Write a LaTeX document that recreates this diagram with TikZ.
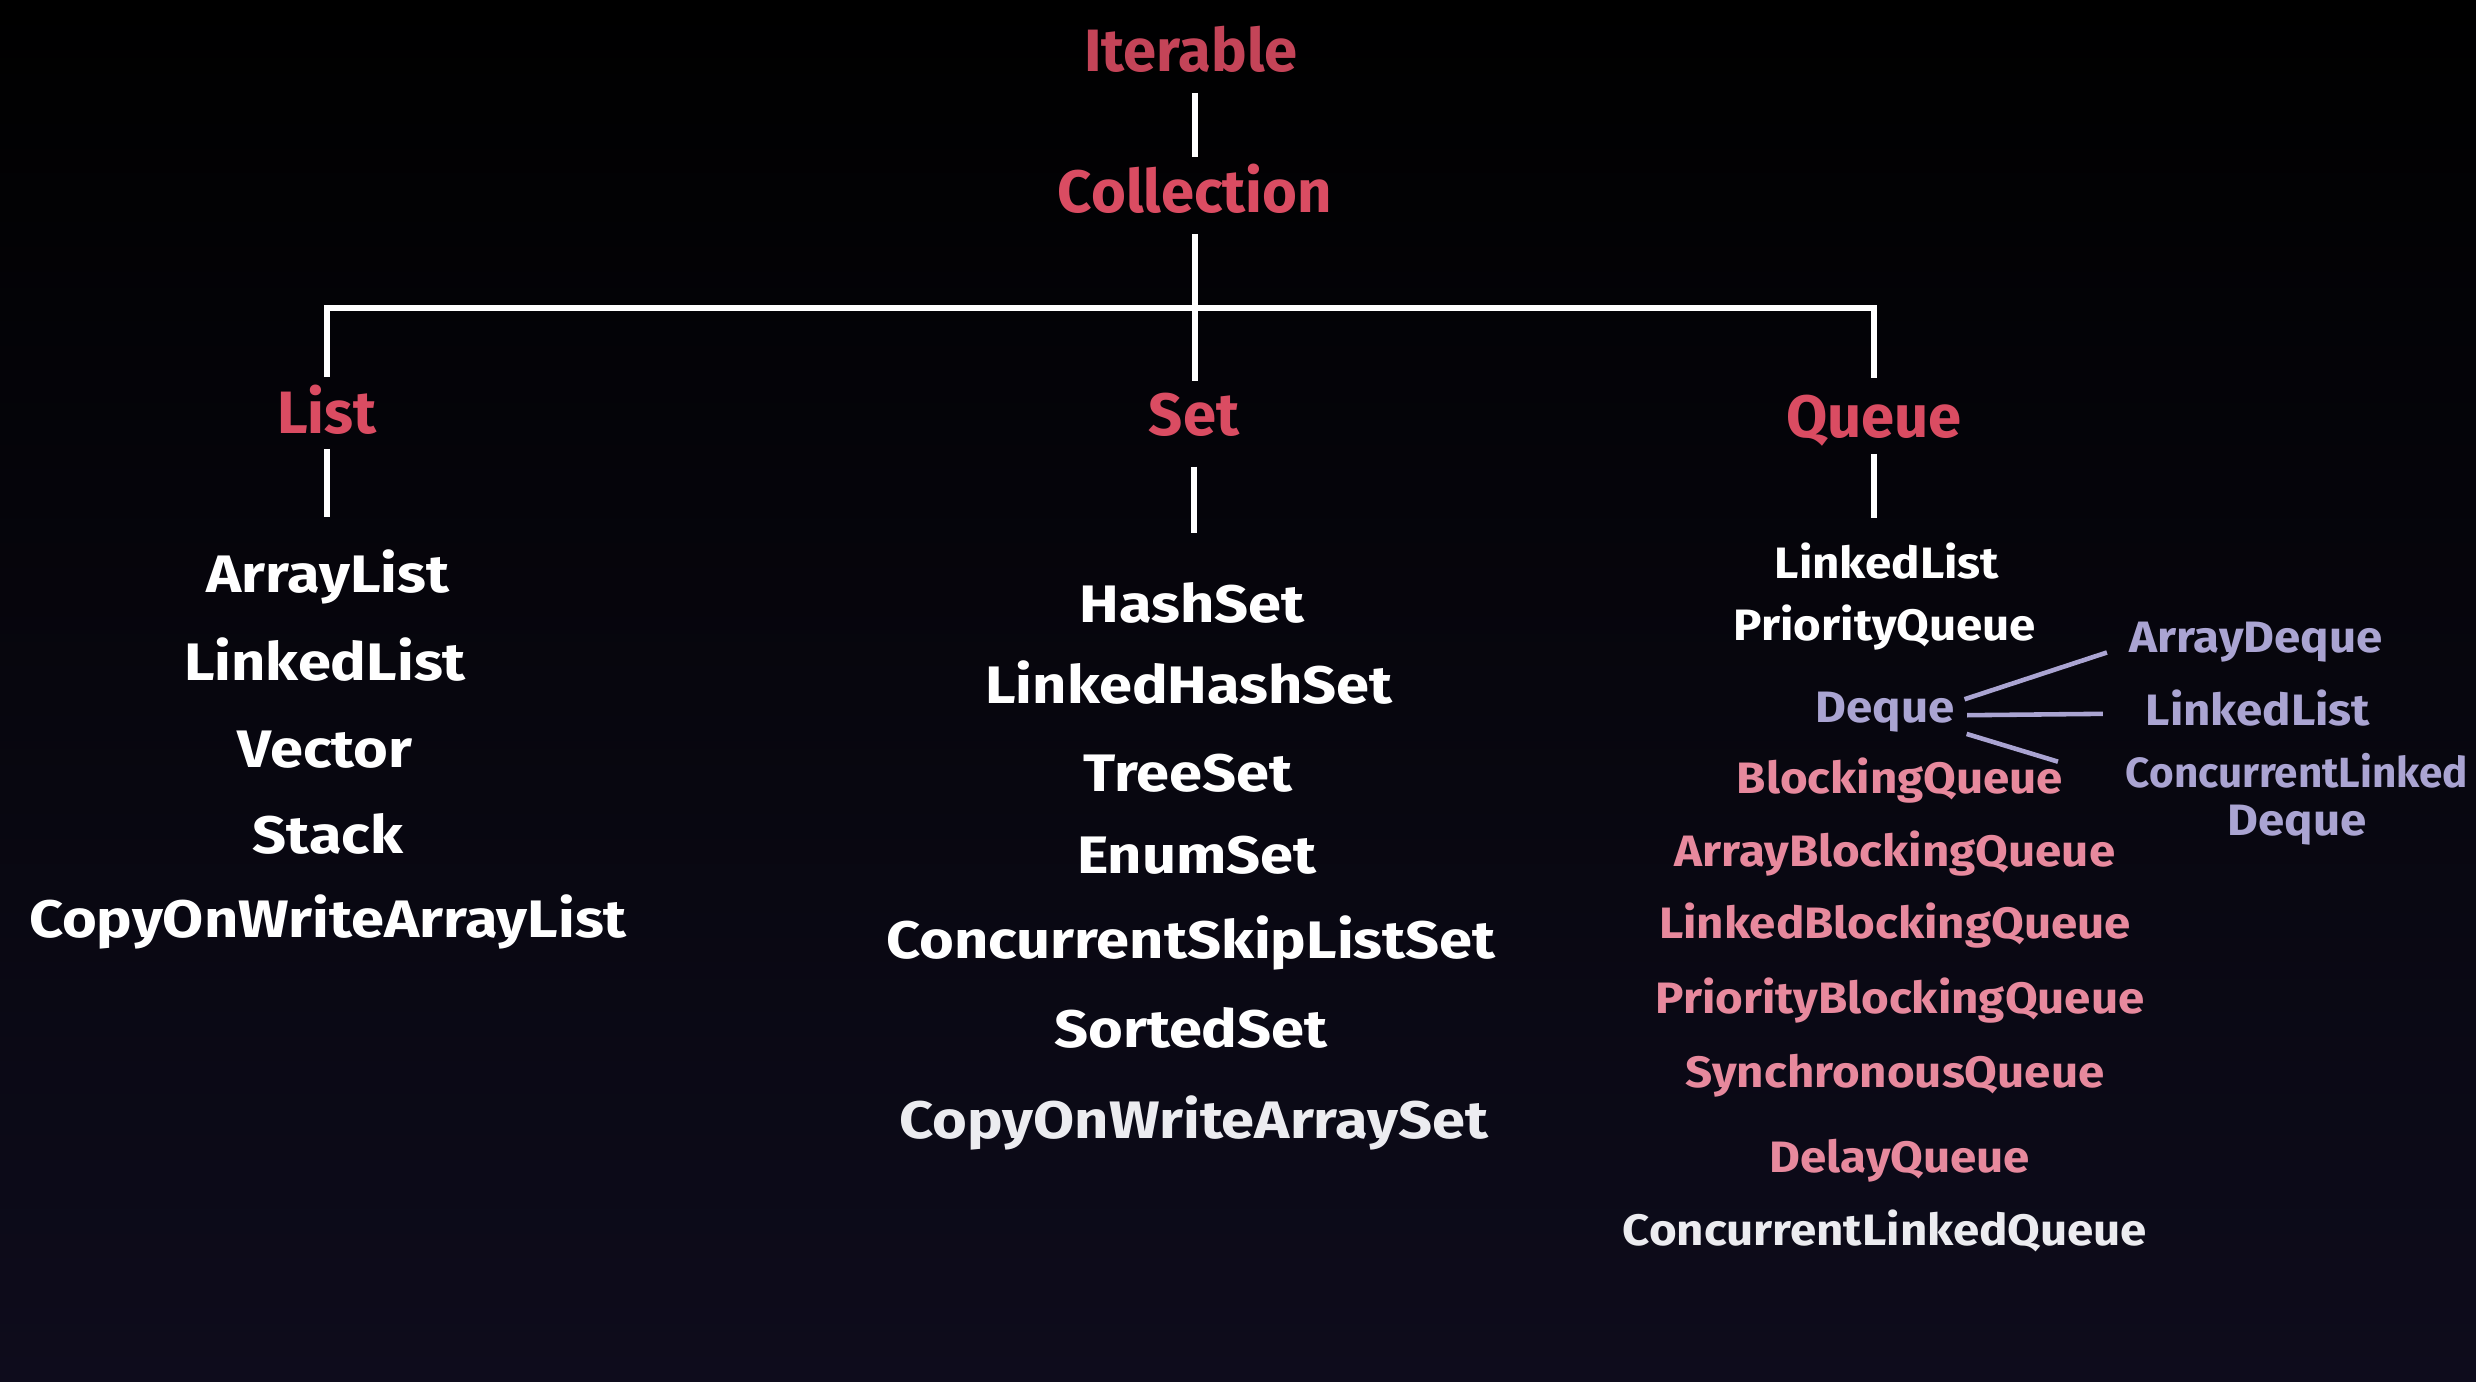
\documentclass[tikz,border=0pt]{standalone}
\usepackage{fontspec}
\setmainfont{Fira Sans}
\newfontfamily\itemfont[FakeStretch=1.13]{Fira Sans}
\newfontfamily\qfont[FakeStretch=1.08]{Fira Sans}

\definecolor{headred}{RGB}{218,76,98}
\definecolor{qpink}{RGB}{231,137,157}
\definecolor{lavender}{RGB}{170,164,210}
\definecolor{softwhite}{RGB}{236,236,240}
\definecolor{bgbot}{RGB}{14,12,28}

\tikzset{
  every node/.style={inner sep=0pt, anchor=base},
  head/.style={text=headred, font=\fontsize{17}{20}\selectfont\bfseries,
    text height=12pt, text depth=4pt},
  item/.style={text=white, font=\itemfont\fontsize{15}{18}\selectfont\bfseries,
    text height=12pt, text depth=4pt},
  qitem/.style={text=white, font=\qfont\fontsize{12.5}{15}\selectfont\bfseries,
    text height=10pt, text depth=3.4pt},
  blocking/.style={qitem, text=qpink},
  dqitem/.style={qitem, text=lavender},
  link/.style={draw=white, line width=1.6pt},
  dqlink/.style={draw=lavender, line width=1.3pt}
}

\begin{document}
\begin{tikzpicture}[x=0.01cm, y=-0.01cm]

  % background, black fading to dark navy at the bottom
  \shade[top color=black, middle color=black, bottom color=bgbot]
    (0,0) rectangle (2476,1381);
  \useasboundingbox (0,0) rectangle (2476,1381);

  % top of the hierarchy
  \node[head, text=headred!90!black] (iter) at (1191,71) {Iterable};
  \node[head] (coll) at (1195,212) {Collection};

  % the three sub-interfaces
  \node[head] (list)  at (327,433)  {List};
  \node[head] (set)   at (1194,435) {Set};
  \node[head] (queue) at (1874,437) {Queue};

  % List implementations
  \node[item] (alist)   at (328,592) {ArrayList};
  \node[item] (llist)   at (325,680) {LinkedList};
  \node[item] (vector)  at (325,767) {Vector};
  \node[item] (stack)   at (328,853) {Stack};
  \node[item] (cowlist) at (328,937) {CopyOnWriteArrayList};

  % Set implementations
  \node[item] (hset)    at (1192,622)  {HashSet};
  \node[item] (lhset)   at (1189,703)  {LinkedHashSet};
  \node[item] (tset)    at (1188,791)  {TreeSet};
  \node[item] (eset)    at (1197,873)  {EnumSet};
  \node[item] (csls)    at (1191,958)  {ConcurrentSkipListSet};
  \node[item] (sset)    at (1191,1047) {SortedSet};
  \node[item, text=softwhite] (cowset) at (1194,1138) {CopyOnWriteArraySet};

  % Queue implementations
  \node[qitem] (qllist)  at (1887,578) {LinkedList};
  \node[qitem] (pqueue)  at (1885,640) {PriorityQueue};
  \node[dqitem] (deque)  at (1885,722) {Deque};
  \node[blocking] (bq)   at (1900,793) {BlockingQueue};
  \node[blocking] (abq)  at (1895,866) {ArrayBlockingQueue};
  \node[blocking] (lbq)  at (1895,938) {LinkedBlockingQueue};
  \node[blocking] (pbq)  at (1900,1013) {PriorityBlockingQueue};
  \node[blocking] (sq)   at (1895,1087) {SynchronousQueue};
  \node[blocking] (dq)   at (1900,1172) {DelayQueue};
  \node[qitem, text=softwhite] (clq) at (1885,1245) {ConcurrentLinkedQueue};

  % Deque implementations
  \node[dqitem] (adeque) at (2256,652) {ArrayDeque};
  \node[dqitem] (dllist) at (2258,725) {LinkedList};
  \node[dqitem, font=\fontsize{12}{15}\selectfont\bfseries] (cld) at (2297,787) {ConcurrentLinked};
  \node[dqitem] (cld2)   at (2297,835) {Deque};

  % tree connectors
  \coordinate (bus) at (coll.south |- 0,308);
  \draw[link, shorten <=2pt, shorten >=3.4pt] (coll.north |- iter.south) -- (coll.north);
  \draw[link, shorten <=2pt] (coll.south) -- (bus);
  \draw[link, shorten >=3.1pt] (bus) -- (bus |- set.north);
  \draw[link, shorten <=3.7pt, shorten >=4.6pt] (list.north) |- (bus) -| (queue.north);

  \draw[link, shorten <=0.3pt, shorten >=9pt] (list.south) -- (list.south |- alist.north);
  \draw[link, shorten <=4.8pt, shorten >=13pt] (set.south) -- (set.south |- hset.north);
  \draw[link, shorten <=0.6pt, shorten >=7pt] (queue.south) -- (queue.south |- qllist.north);

  % Deque fan-out
  \draw[dqlink, shorten <=2.8pt, shorten >=6.5pt] ([yshift=2.3pt]deque.east) -- ([yshift=-1.4pt]adeque.west);
  \draw[dqlink, shorten <=3.4pt, shorten >=12pt] ([yshift=-1.4pt]deque.east) -- (dllist.west);
  \draw[dqlink, shorten <=3.4pt, shorten >=20pt] ([yshift=-5.7pt]deque.east) -- ([yshift=-1.9pt]cld.west);

\end{tikzpicture}
\end{document}
